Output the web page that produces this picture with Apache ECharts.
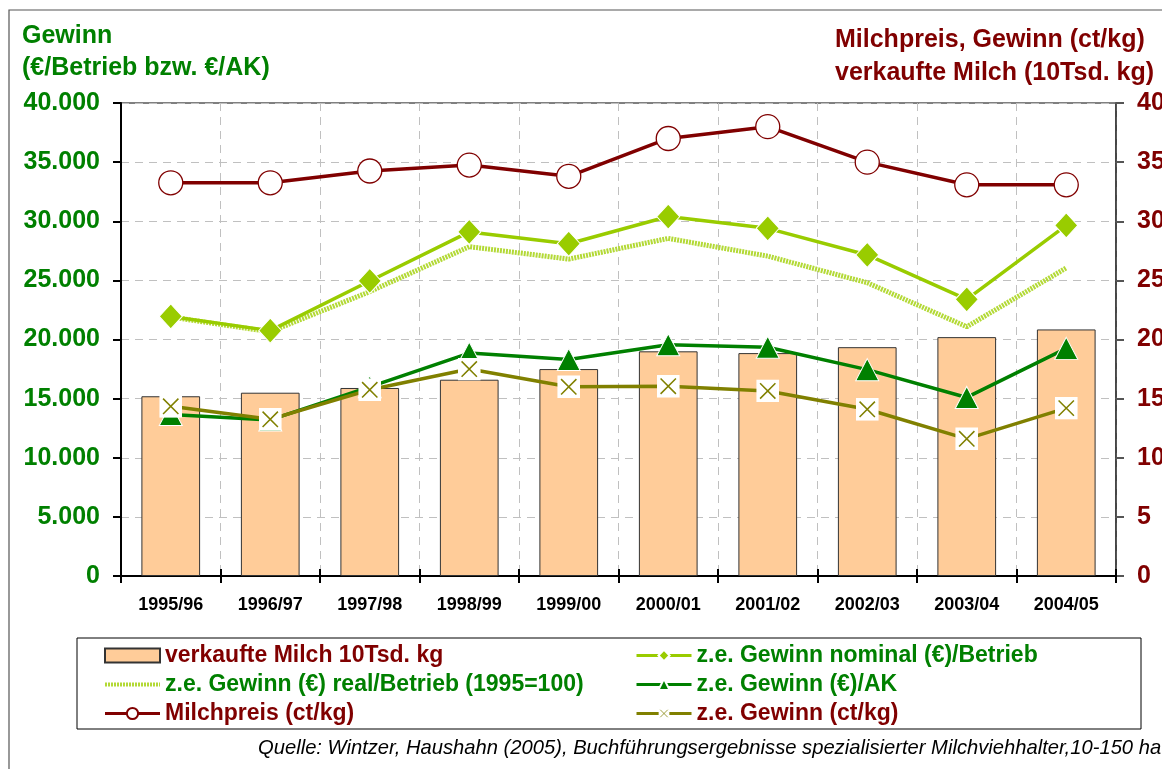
<!DOCTYPE html>
<html><head><meta charset="utf-8">
<script src="https://cdn.jsdelivr.net/npm/echarts@6/dist/echarts.min.js"></script>
<style>html,body{margin:0;padding:0;background:#fff}#c{width:1162px;height:769px}</style>
</head><body><div id="c"></div>
<script>
const categories = ['1995/96','1996/97','1997/98','1998/99','1999/00','2000/01','2001/02','2002/03','2003/04','2004/05'];
const milchVerkauft = [15.2, 15.5, 15.9, 16.6, 17.5, 19.0, 18.85, 19.35, 20.2, 20.85];
const gewinnNominal = [21950, 20750, 24950, 29100, 28100, 30400, 29400, 27150, 23400, 29650];
const gewinnReal = [21900, 20650, 24050, 27850, 26800, 28550, 27050, 24800, 21080, 26050];
const gewinnAK = [13650, 13200, 16000, 18850, 18300, 19550, 19350, 17450, 15100, 19250];
const milchpreis = [33.25, 33.25, 34.25, 34.75, 33.8, 37.0, 38.0, 35.0, 33.08, 33.08];
const gewinnCtKg = [14.35, 13.25, 15.75, 17.5, 16.0, 16.05, 15.65, 14.1, 11.6, 14.2];
const leftTicks = {min: 0, max: 40000, interval: 5000};
const rightTicks = {min: 0, max: 40, interval: 5};

const GREEN = '#008000', DRED = '#800000', FONT = '"Liberation Sans", Arial, sans-serif';
const xSvg = "<svg xmlns='http://www.w3.org/2000/svg' width='24' height='24'><rect width='24' height='24' fill='white'/><path d='M4 4L20 20M20 4L4 20' stroke='#808000' stroke-width='1.6'/></svg>";
const xSymbol = 'image://data:image/svg+xml;charset=utf-8,' + encodeURIComponent(xSvg);

const chart = echarts.init(document.getElementById('c'), null, {renderer: 'canvas'});
const fmt = v => String(v).replace(/\B(?=(\d{3})+(?!\d))/g, '.');
const legendText = {fontFamily: FONT, fontWeight: 'bold', fontSize: 23, lineHeight: 22};
chart.setOption({
  animation: false,
  backgroundColor: '#fff',
  textStyle: {fontFamily: FONT},
  grid: {left: 121, right: 46, top: 103, bottom: 193, containLabel: false, outerBoundsMode: 'none',
         show: true, borderColor: '#000', borderWidth: 1},
  graphic: [
    {type: 'rect', shape: {x: 9, y: 10, width: 1200, height: 800}, style: {fill: 'none', stroke: '#555', lineWidth: 1.2}, z: -10},
    {type: 'rect', shape: {x: 77, y: 638, width: 1064, height: 91}, style: {fill: 'none', stroke: '#000', lineWidth: 1}},
    {type: 'text', left: 22, top: 24, style: {text: 'Gewinn', fill: GREEN, font: 'bold 25px ' + FONT}},
    {type: 'text', left: 22, top: 56, style: {text: '(€/Betrieb bzw. €/AK)', fill: GREEN, font: 'bold 25px ' + FONT}},
    {type: 'text', left: 835, top: 28, style: {text: 'Milchpreis, Gewinn (ct/kg)', fill: DRED, font: 'bold 25px ' + FONT}},
    {type: 'text', left: 835, top: 61, style: {text: 'verkaufte Milch (10Tsd. kg)', fill: DRED, font: 'bold 25px ' + FONT}},
    {type: 'text', left: 258, top: 738, style: {text: 'Quelle: Wintzer, Haushahn (2005), Buchführungsergebnisse spezialisierter Milchviehhalter,10-150 ha', fill: '#000', font: 'italic 20.2px ' + FONT}}
  ],
  legend: [
    {left: 103, top: 644, padding: 0, orient: 'vertical', itemWidth: 55, itemHeight: 14, itemGap: 6,
     textStyle: legendText, lineStyle: {width: 3},
     data: [{name: 'verkaufte Milch 10Tsd. kg', icon: 'rect', textStyle: {color: DRED}},
            {name: 'z.e. Gewinn (€) real/Betrieb (1995=100)', textStyle: {color: GREEN}, itemStyle: {opacity: 0}, lineStyle: {width: 4}},
            {name: 'Milchpreis (ct/kg)', textStyle: {color: DRED}}]},
    {left: 635, top: 644, padding: 0, orient: 'vertical', itemWidth: 55, itemHeight: 14, itemGap: 6,
     textStyle: legendText, lineStyle: {width: 3},
     data: [{name: 'z.e. Gewinn nominal (€)/Betrieb', textStyle: {color: GREEN}},
            {name: 'z.e. Gewinn (€)/AK', textStyle: {color: GREEN}},
            {name: 'z.e. Gewinn (ct/kg)', textStyle: {color: DRED}}]}
  ],
  xAxis: [
    {type: 'category', data: categories, boundaryGap: true,
     axisLine: {lineStyle: {color: '#000', width: 2}},
     axisTick: {show: true, length: 7, lineStyle: {color: '#000', width: 2}},
     axisLabel: {color: '#000', fontWeight: 'bold', fontSize: 18, margin: 20, fontFamily: FONT},
     splitLine: {show: true, lineStyle: {color: '#c0c0c0', type: [8, 6], width: 1}}},
    {type: 'category', data: categories, position: 'bottom', boundaryGap: true,
     axisLine: {show: false}, axisLabel: {show: false}, splitLine: {show: false},
     axisTick: {show: true, inside: true, length: 7, lineStyle: {color: '#000', width: 2}}}
  ],
  yAxis: [
    {type: 'value', min: leftTicks.min, max: leftTicks.max, interval: leftTicks.interval, position: 'left',
     axisLine: {show: true, lineStyle: {color: '#000', width: 2}},
     axisTick: {show: true, length: 8, lineStyle: {color: '#000', width: 2}},
     axisLabel: {color: GREEN, fontWeight: 'bold', fontSize: 25, margin: 21, formatter: fmt, fontFamily: FONT},
     splitLine: {show: true, lineStyle: {color: '#c0c0c0', type: [8, 6], width: 1}}},
    {type: 'value', min: rightTicks.min, max: rightTicks.max, interval: rightTicks.interval, position: 'right',
     axisLine: {show: true, lineStyle: {color: '#333', width: 1.5}},
     axisTick: {show: true, length: 8, lineStyle: {color: '#555', width: 2}},
     axisLabel: {color: DRED, fontWeight: 'bold', fontSize: 25, margin: 21, fontFamily: FONT},
     splitLine: {show: false}}
  ],
  series: [
    {name: 'verkaufte Milch 10Tsd. kg', type: 'bar', yAxisIndex: 1, data: milchVerkauft, barWidth: '59%',
     itemStyle: {color: '#FFCC99', borderColor: '#333', borderWidth: 1}, z: 1},
    {name: 'z.e. Gewinn (€) real/Betrieb (1995=100)', type: 'line', yAxisIndex: 0, data: gewinnReal,
     symbol: 'none', lineStyle: {color: '#b3d936', width: 5, type: [2, 1]}, itemStyle: {color: '#b3d936'}, z: 3},
    {name: 'z.e. Gewinn nominal (€)/Betrieb', type: 'line', yAxisIndex: 0, data: gewinnNominal,
     symbol: 'diamond', symbolSize: [23, 25], lineStyle: {color: '#99CC00', width: 3.5},
     itemStyle: {color: '#99CC00', borderColor: '#fff', borderWidth: 1}, z: 4},
    {name: 'Milchpreis (ct/kg)', type: 'line', yAxisIndex: 1, data: milchpreis,
     symbol: 'circle', symbolSize: 24, lineStyle: {color: DRED, width: 3.5},
     itemStyle: {color: '#fff', borderColor: DRED, borderWidth: 1.3}, z: 5},
    {name: 'z.e. Gewinn (€)/AK', type: 'line', yAxisIndex: 0, data: gewinnAK,
     symbol: 'triangle', symbolSize: [23, 22], lineStyle: {color: GREEN, width: 3.5},
     itemStyle: {color: GREEN, borderColor: '#fff', borderWidth: 1}, z: 6},
    {name: 'z.e. Gewinn (ct/kg)', type: 'line', yAxisIndex: 1, data: gewinnCtKg,
     symbol: xSymbol, symbolSize: 23, lineStyle: {color: '#808000', width: 3.5},
     itemStyle: {color: '#808000'}, z: 7}
  ]
});
</script></body></html>
